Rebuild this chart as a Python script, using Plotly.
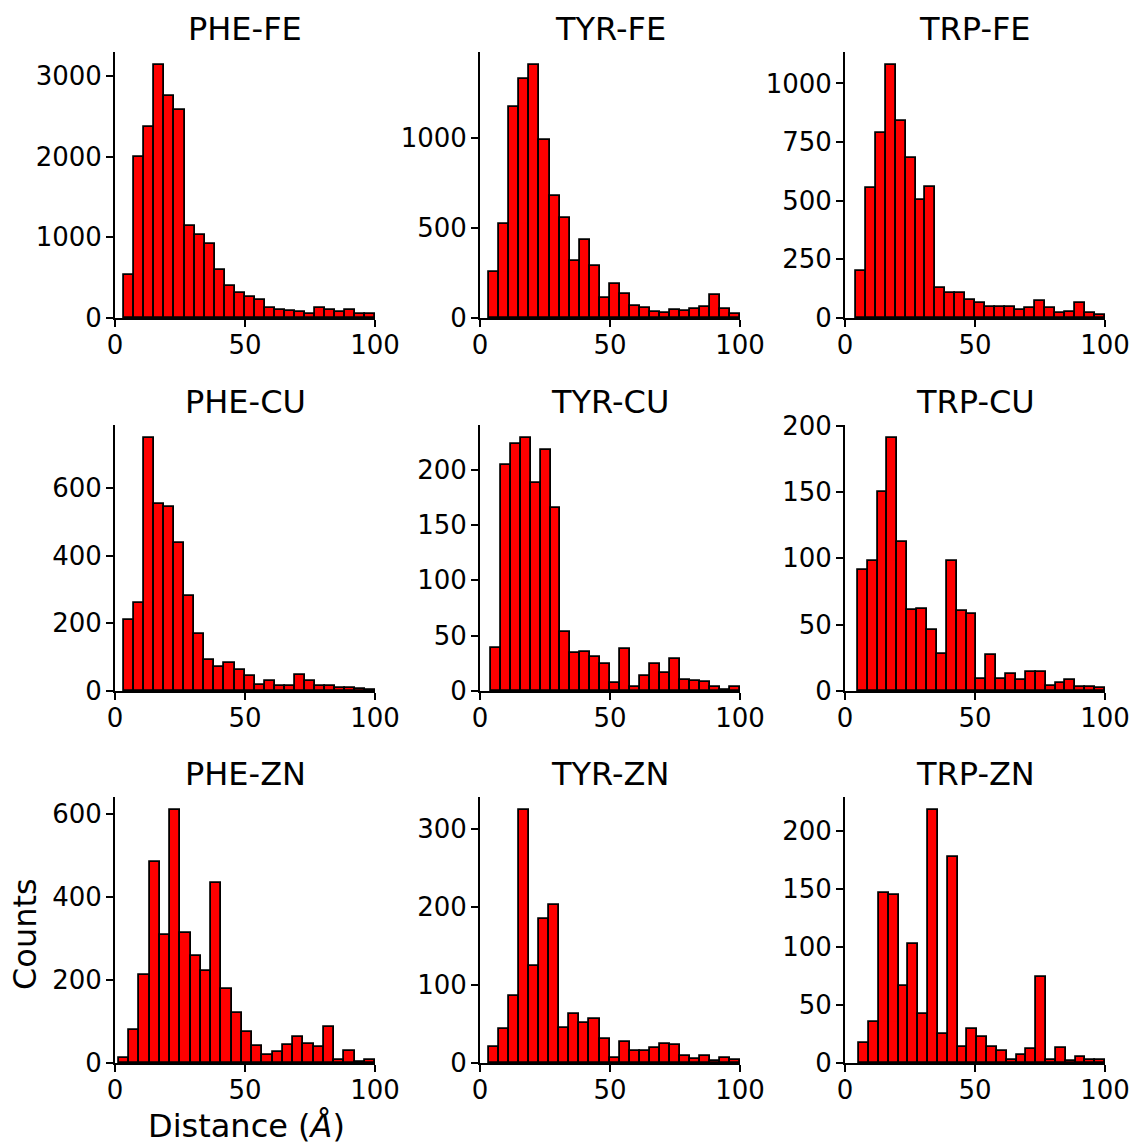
import numpy as np
import plotly.graph_objects as go

titles = ["PHE-FE", "TYR-FE", "TRP-FE",
          "PHE-CU", "TYR-CU", "TRP-CU",
          "PHE-ZN", "TYR-ZN", "TRP-ZN"]

phe_fe = [537, 1992, 2364, 3140, 2748, 2574, 1145, 1029, 921, 599, 401, 306, 264, 219, 124, 103, 91, 70, 54, 124, 95, 74, 95, 54, 54]
tyr_fe = [253, 521, 1168, 1327, 1405, 989, 675, 553, 314, 431, 287, 113, 187, 131, 67, 54, 35, 28, 44, 41, 48, 63, 128, 52, 22]
trp_fe = [200, 554, 788, 1080, 839, 680, 503, 560, 126, 108, 108, 77, 64, 47, 47, 47, 33, 44, 71, 41, 20, 26, 65, 23, 13]
phe_cu = [209, 260, 748, 552, 542, 437, 280, 168, 93, 72, 82, 61, 45, 19, 29, 14, 15, 48, 29, 15, 16, 8, 10, 6, 2]
tyr_cu = [39, 204, 223, 229, 188, 218, 165, 53, 34, 35, 31, 24, 7, 38, 4, 14, 24, 16, 29, 10, 9, 8, 4, 1, 4]
trp_cu = [91, 98, 150, 191, 112, 61, 62, 46, 28, 98, 60, 58, 9, 27, 9, 13, 8, 14, 14, 4, 6, 8, 3, 3, 2]
phe_zn = [11, 79, 213, 484, 309, 611, 313, 259, 223, 435, 179, 121, 75, 41, 19, 27, 44, 63, 47, 39, 87, 7, 29, 2, 8]
tyr_zn = [20, 43, 86, 325, 124, 185, 203, 45, 63, 51, 56, 31, 6, 27, 16, 15, 19, 24, 23, 9, 5, 9, 2, 6, 4]
trp_zn = [17, 35, 146, 145, 66, 102, 42, 218, 25, 177, 14, 29, 22, 14, 10, 3, 7, 12, 74, 3, 13, 2, 5, 3, 3]

counts = [phe_fe, tyr_fe, trp_fe, phe_cu, tyr_cu, trp_cu, phe_zn, tyr_zn, trp_zn]
bin_start = [3.6, 3.6, 4.1, 3.5, 4.1, 4.9, 1.5, 3.5, 5.5]
bin_end = 100.0
y_dtick = [1000, 500, 250, 200, 50, 50, 200, 100, 50]
x_ticks = [0, 50, 100]

W, H = 1132, 1148
col_px = [(115, 375), (480, 740), (845, 1105)]
row_px = [(52, 318), (425, 691), (797, 1063)]

FONT = "DejaVu Sans"
fig = go.Figure()
layout = dict(width=W, height=H, margin=dict(l=0, r=0, t=0, b=0, pad=0, autoexpand=False),
              plot_bgcolor="white", paper_bgcolor="white",
              showlegend=False, bargap=0,
              font=dict(family=FONT, color="black"))
annotations = []

for i in range(9):
    r, c = divmod(i, 3)
    data = counts[i]
    n = len(data)
    edges = np.linspace(bin_start[i], bin_end, n + 1)
    centers = (edges[:-1] + edges[1:]) / 2
    width = edges[1] - edges[0]
    xa = "x" if i == 0 else f"x{i+1}"
    ya = "y" if i == 0 else f"y{i+1}"
    fig.add_trace(go.Bar(x=centers, y=data, width=width, xaxis=xa, yaxis=ya,
                         marker=dict(color="#ff0000", line=dict(color="black", width=1.8)),
                         hoverinfo="x+y"))
    x0, x1 = col_px[c]
    y0, y1 = row_px[r]
    xkey = "xaxis" if i == 0 else f"xaxis{i+1}"
    ykey = "yaxis" if i == 0 else f"yaxis{i+1}"
    layout[xkey] = dict(domain=[x0 / W, x1 / W], anchor=ya, range=[0, 100], automargin=False,
                        tickvals=x_ticks, ticks="outside", ticklen=7, tickwidth=1.8,
                        tickcolor="black", showline=True, linecolor="black", linewidth=1.8,
                        showgrid=False, zeroline=False, tickfont=dict(size=26, family=FONT),
                        ticklabelstandoff=-4)
    ymax = max(data) * 1.05
    layout[ykey] = dict(domain=[1 - y1 / H, 1 - y0 / H], anchor=xa, range=[0, ymax], automargin=False,
                        dtick=y_dtick[i], tick0=0, ticks="outside", ticklen=7, tickwidth=1.8,
                        tickcolor="black", showline=True, linecolor="black", linewidth=1.8,
                        showgrid=False, zeroline=False, tickfont=dict(size=26, family=FONT),
                        ticklabelstandoff=-1)
    annotations.append(dict(text=titles[i], x=(x0 + x1) / 2 / W, y=1 - (y0 - 2) / H,
                            xref="paper", yref="paper", xanchor="center", yanchor="bottom",
                            showarrow=False, font=dict(size=32, family=FONT, color="black")))

annotations.append(dict(text="Counts", x=25 / W, y=1 - 934 / H, xref="paper", yref="paper",
                        xanchor="center", yanchor="middle", textangle=-90, showarrow=False,
                        font=dict(size=32, family=FONT, color="black")))
annotations.append(dict(text="Distance (<i>Å</i>)", x=246 / W, y=1 - 1126 / H, xref="paper", yref="paper",
                        xanchor="center", yanchor="middle", showarrow=False,
                        font=dict(size=32, family=FONT, color="black")))
layout["annotations"] = annotations
fig.update_layout(**layout)
fig.write_html("out.html", config={"displayModeBar": False},
               post_script="document.body.style.margin='0';document.body.style.padding='0';document.body.style.overflow='hidden';")
